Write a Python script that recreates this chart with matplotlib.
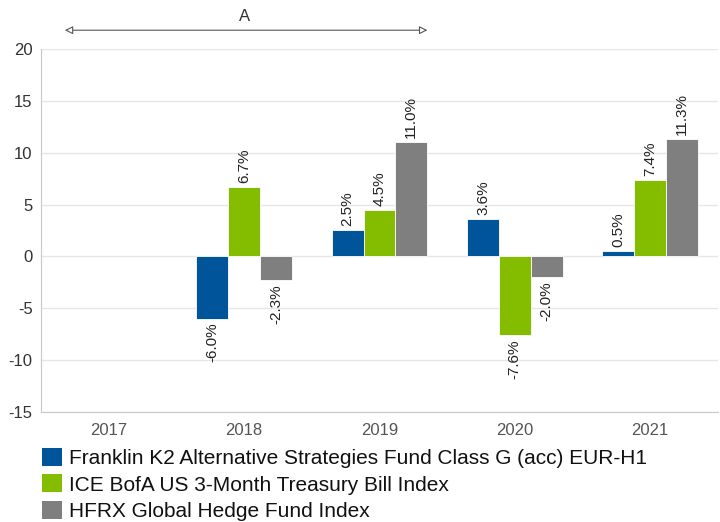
import numpy as np
import matplotlib
matplotlib.use("Agg")
import matplotlib.pyplot as plt
from matplotlib.patches import Patch

plt.rcParams["font.family"] = ["Liberation Sans", "DejaVu Sans"]
plt.rcParams["axes.unicode_minus"] = False

# data
years = ["2017", "2018", "2019", "2020", "2021"]
fund = [np.nan, -6.0, 2.5, 3.6, 0.5]
tbill = [np.nan, 6.7, 4.5, -7.6, 7.4]
hfrx = [np.nan, -2.3, 11.0, -2.0, 11.3]
series_names = [
    "Franklin K2 Alternative Strategies Fund Class G (acc) EUR-H1",
    "ICE BofA US 3-Month Treasury Bill Index",
    "HFRX Global Hedge Fund Index",
]
colors = ["#00549A", "#84BD00", "#7F7F7F"]

fig = plt.figure(figsize=(7.2, 5.22), dpi=100)
ax = fig.add_axes([0.057, 0.211, 0.940, 0.695])

x = np.arange(len(years))
width = 0.235
text_col = "#333333"

for i, (vals, col) in enumerate(zip([fund, tbill, hfrx], colors)):
    pos = x + (i - 1) * width
    ax.bar(pos, vals, width=width, color=col, edgecolor="white", linewidth=0.6, zorder=3)
    for px, v in zip(pos, vals):
        if np.isnan(v):
            continue
        ax.annotate(f"{v:.1f}%", (px, v), xytext=(0, 3 if v >= 0 else -3),
                    textcoords="offset points", rotation=90, ha="center",
                    va="bottom" if v >= 0 else "top", fontsize=11, color="#222222")

ax.set_xlim(-0.5, len(years) - 0.5)
ax.set_ylim(-15, 20)
ax.set_yticks(range(-15, 21, 5))
ax.set_xticks(x)
ax.set_xticklabels(years)
ax.tick_params(axis="both", colors="#555555", labelsize=12, length=0, pad=8)
ax.tick_params(axis="y", pad=6, labelcolor="#333333")
ax.grid(axis="y", color="#E6E6E6", linewidth=1, zorder=0)
for s in ["top", "right"]:
    ax.spines[s].set_visible(False)
for s in ["left", "bottom"]:
    ax.spines[s].set_color("#C8C8C8")

# period bracket
ax.annotate("", xy=(0.031, 1.052), xytext=(0.575, 1.052), xycoords="axes fraction",
            arrowprops=dict(arrowstyle="<|-|>", edgecolor="#555555", lw=0.8,
                            facecolor="white", mutation_scale=12),
            annotation_clip=False)
ax.text(0.3, 1.07, "A", transform=ax.transAxes, ha="center", va="bottom",
        fontsize=12, color=text_col)

handles = [Patch(facecolor=c, edgecolor="none") for c in colors]
fig.legend(handles, series_names, loc="upper left", bbox_to_anchor=(0.058, 0.142),
           frameon=False, fontsize=15, handlelength=0.96, handleheight=0.96,
           handletextpad=0.33, labelspacing=0.3, borderaxespad=0, borderpad=0,
           labelcolor="#111111")

fig.savefig("out.png", dpi=100)
